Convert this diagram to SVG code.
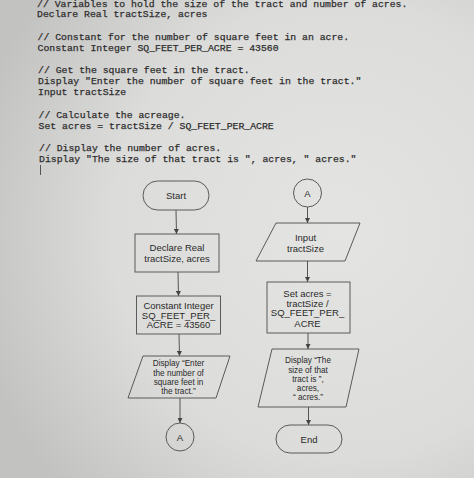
<svg xmlns="http://www.w3.org/2000/svg" width="474" height="478" viewBox="0 0 474 478">
<defs>
<radialGradient id="bg" cx="340" cy="230" r="380" gradientUnits="userSpaceOnUse">
<stop offset="0" stop-color="#e4e4e2"/>
<stop offset="0.6" stop-color="#dcdcda"/>
<stop offset="1" stop-color="#c2c2c0"/>
</radialGradient>
<marker id="ah" viewBox="0 0 10 10" refX="10" refY="5" markerWidth="5" markerHeight="5" orient="auto" markerUnits="userSpaceOnUse">
<path d="M0,0 L10,5 L0,10 z" fill="#444"/>
</marker>
<style>
.code{font-family:"Liberation Mono","DejaVu Sans Mono",monospace;font-size:9.8px;fill:#2e2e2e;stroke:#2e2e2e;stroke-width:0.25}
.shape{fill:none;stroke:#5a5a5a;stroke-width:1}
.t{font-family:"Liberation Sans",Arial,sans-serif;font-size:9.5px;fill:#2a2a2a;text-anchor:middle}
.s{font-family:"Liberation Sans",Arial,sans-serif;font-size:8.2px;fill:#2a2a2a;text-anchor:middle}
.conn line{stroke:#555;stroke-width:1;marker-end:url(#ah)}
</style>
</defs>
<rect x="0" y="0" width="474" height="478" fill="url(#bg)"/>

<g id="code">
<text class="code" x="37" y="6.5">// Variables to hold the size of the tract and number of acres.</text>
<text class="code" x="37" y="17.2">Declare Real tractSize, acres</text>
<text class="code" x="37.5" y="39.5">// Constant for the number of square feet in an acre.</text>
<text class="code" x="37.5" y="50.6">Constant Integer SQ_FEET_PER_ACRE = 43560</text>
<text class="code" x="38" y="73">// Get the square feet in the tract.</text>
<text class="code" x="38" y="84.1">Display "Enter the number of square feet in the tract."</text>
<text class="code" x="38" y="95.2">Input tractSize</text>
<text class="code" x="38.5" y="117.5">// Calculate the acreage.</text>
<text class="code" x="38.5" y="128.7">Set acres = tractSize / SQ_FEET_PER_ACRE</text>
<text class="code" x="39" y="151">// Display the number of acres.</text>
<text class="code" x="39" y="162.1">Display "The size of that tract is ", acres, " acres."</text>
<line x1="40.5" y1="165" x2="40.5" y2="175" stroke="#555" stroke-width="1"/>
</g>

<g class="conn" id="connectors">
<line x1="176" y1="210" x2="176.5" y2="234"/>
<line x1="178" y1="272" x2="178.5" y2="296"/>
<line x1="179" y1="334" x2="179.5" y2="356"/>
<line x1="180" y1="398" x2="180" y2="423"/>
<line x1="307.5" y1="207" x2="307.5" y2="223"/>
<line x1="307.5" y1="261" x2="307.5" y2="282"/>
<line x1="308" y1="333" x2="308" y2="349"/>
<line x1="308.5" y1="407" x2="308.5" y2="425"/>
</g>

<g id="start">
<rect class="shape" x="143" y="181" width="66" height="29" rx="14.5" ry="14.5"/>
<text class="t" x="176" y="199">Start</text>
</g>
<g id="declare">
<rect class="shape" x="135" y="234" width="84" height="38"/>
<text class="t" x="177" y="251">Declare Real</text>
<text class="t" x="177" y="261.5">tractSize, acres</text>
</g>
<g id="constant">
<rect class="shape" x="136.5" y="296" width="84" height="38"/>
<text class="t" x="178.5" y="308.5">Constant Integer</text>
<text class="t" x="178.5" y="318.5">SQ_FEET_PER_</text>
<text class="t" x="178.5" y="328">ACRE = 43560</text>
</g>
<g id="display1">
<polygon class="shape" points="143,356 230,356 216,398 128,398"/>
<text class="s" x="178.5" y="366">Display “Enter</text>
<text class="s" x="178.5" y="375.5">the number of</text>
<text class="s" x="178.5" y="384.5">square feet in</text>
<text class="s" x="178.5" y="393.5">the tract.”</text>
</g>
<g id="connA1">
<circle class="shape" cx="180" cy="437" r="14"/>
<text class="t" x="180" y="440.5">A</text>
</g>

<g id="connA2">
<circle class="shape" cx="307.5" cy="193" r="14"/>
<text class="t" x="307.5" y="196.5">A</text>
</g>
<g id="input">
<polygon class="shape" points="276,223 360,223 345,261 256,261"/>
<text class="t" x="305.5" y="241">Input</text>
<text class="t" x="305.5" y="251.5">tractSize</text>
</g>
<g id="setacres">
<rect class="shape" x="267" y="282" width="83" height="51"/>
<text class="t" x="307.5" y="296.5">Set acres =</text>
<text class="t" x="307.5" y="306.5">tractSize /</text>
<text class="t" x="307.5" y="316">SQ_FEET_PER_</text>
<text class="t" x="307.5" y="327">ACRE</text>
</g>
<g id="display2">
<polygon class="shape" points="272,349 359,349 346,407 258,407"/>
<text class="s" x="308" y="363">Display “The</text>
<text class="s" x="308" y="373">size of that</text>
<text class="s" x="308" y="382">tract is ”,</text>
<text class="s" x="308" y="391">acres,</text>
<text class="s" x="308" y="399.5">“ acres.”</text>
</g>
<g id="end">
<rect class="shape" x="276" y="425" width="66" height="28" rx="14" ry="14"/>
<text class="t" x="309" y="442.5">End</text>
</g>
</svg>
